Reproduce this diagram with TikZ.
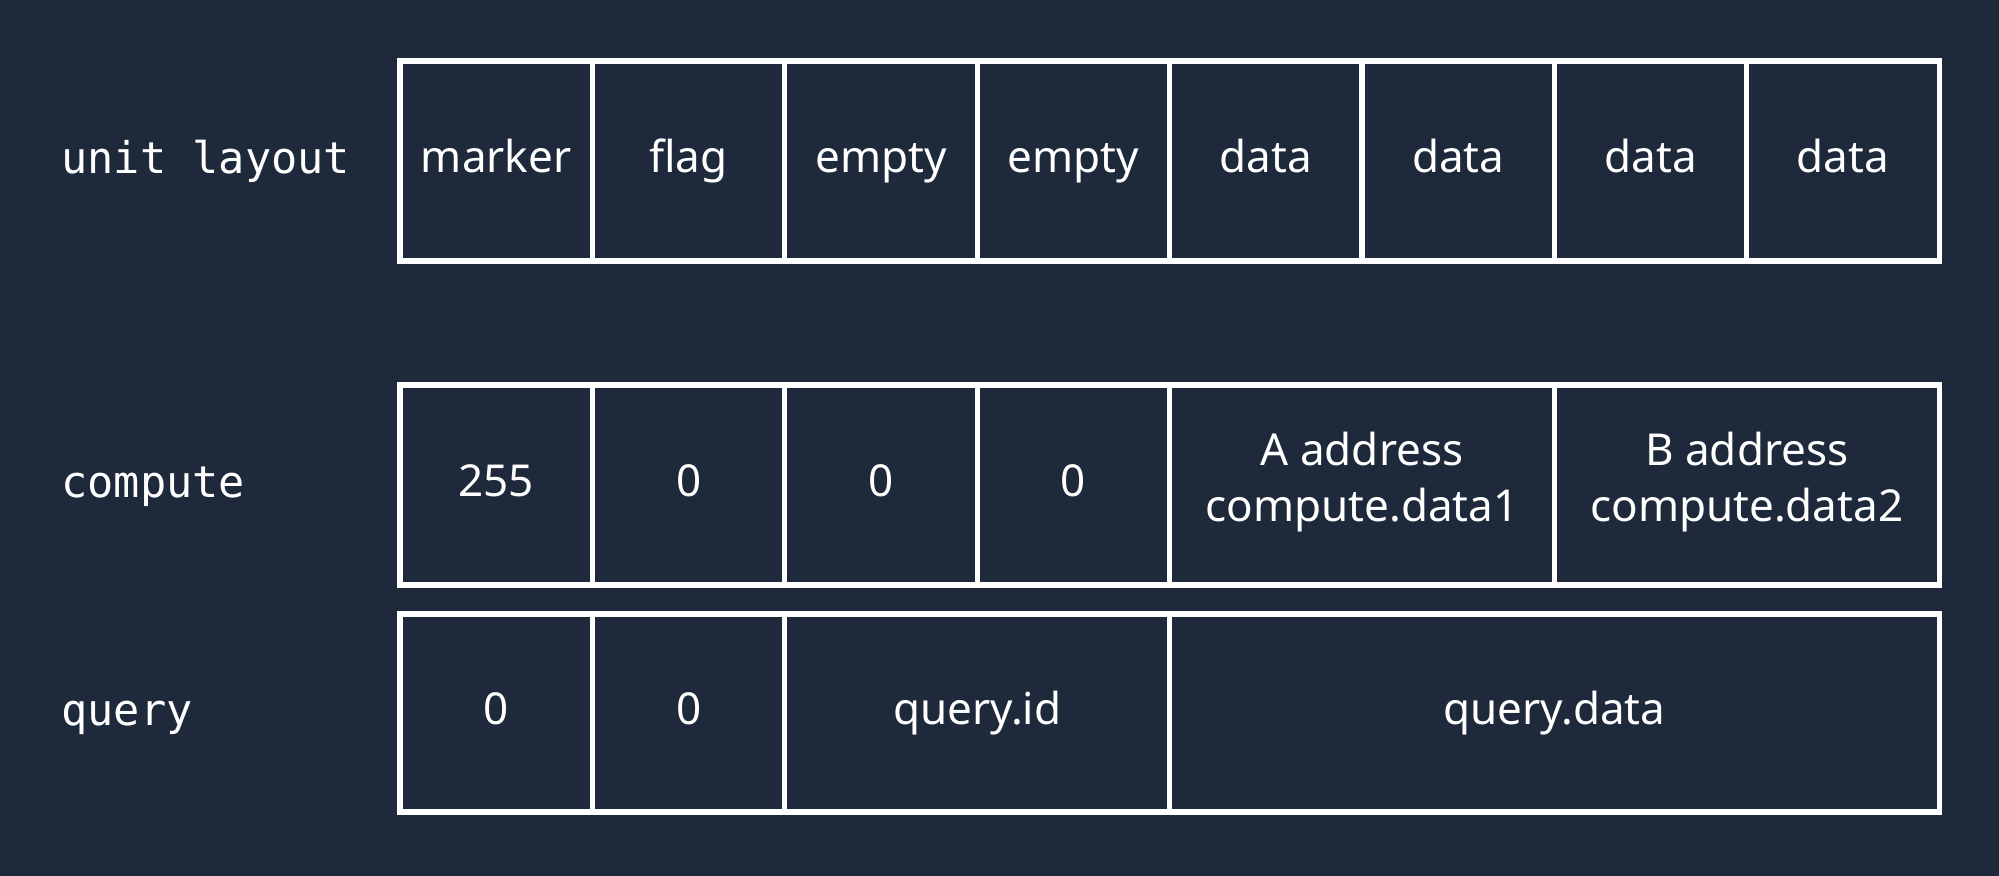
\documentclass[tikz,border=0pt]{standalone}
\usepackage{fontspec}
\setmainfont{Noto Sans}
\setmonofont{DejaVu Sans Mono}
\definecolor{bg}{HTML}{1E293B}
\begin{document}
\begin{tikzpicture}[x=0.5pt,y=-0.5pt,
  cell/.style={draw=white, line width=2.6pt, inner sep=0pt, text=white,
    font=\fontsize{22}{28}\selectfont, align=center, minimum height=100pt,
    execute at begin node=\strut},
  w1/.style={minimum width=96.2pt},
  w2/.style={minimum width=192.4pt},
  w4/.style={minimum width=384.8pt},
  rowlabel/.style={anchor=west, text=white, inner sep=0pt,
    font=\ttfamily\fontsize{21.8}{26}\selectfont, execute at begin node=\strut}]
\fill[bg] (0,0) rectangle (1999,876);
\useasboundingbox (0,0) rectangle (1999,876);
% labels
\node[rowlabel] (lu) at (61,163) {unit layout};
\node[rowlabel] (lc) at (61,487) {compute};
\node[rowlabel] (lq) at (61,715) {query};
% row 1
\foreach \t [count=\i] in {marker,flag,empty,empty,data,data,data,data}{
  \node[cell,w1] (u\i) at ({400+192.4*(\i-0.5)},161) {\t};
}
% row 2
\node[cell,w1] (c1) at ({400+192.4*0.5},485) {255};
\node[cell,w1] (c2) at ({400+192.4*1.5},485) {0};
\node[cell,w1] (c3) at ({400+192.4*2.5},485) {0};
\node[cell,w1] (c4) at ({400+192.4*3.5},485) {0};
\node[cell,w2] (c5) at ({400+192.4*5},485) {A address\\compute.data1};
\node[cell,w2] (c6) at ({400+192.4*7},485) {B address\\compute.data2};
% row 3
\node[cell,w1,minimum height=99pt] (q1) at ({400+192.4*0.5},713) {0};
\node[cell,w1,minimum height=99pt] (q2) at ({400+192.4*1.5},713) {0};
\node[cell,w2,minimum height=99pt] (q3) at ({400+192.4*3},713) {query.id};
\node[cell,w4,minimum height=99pt] (q4) at ({400+192.4*6},713) {query.data};
\end{tikzpicture}
\end{document}
